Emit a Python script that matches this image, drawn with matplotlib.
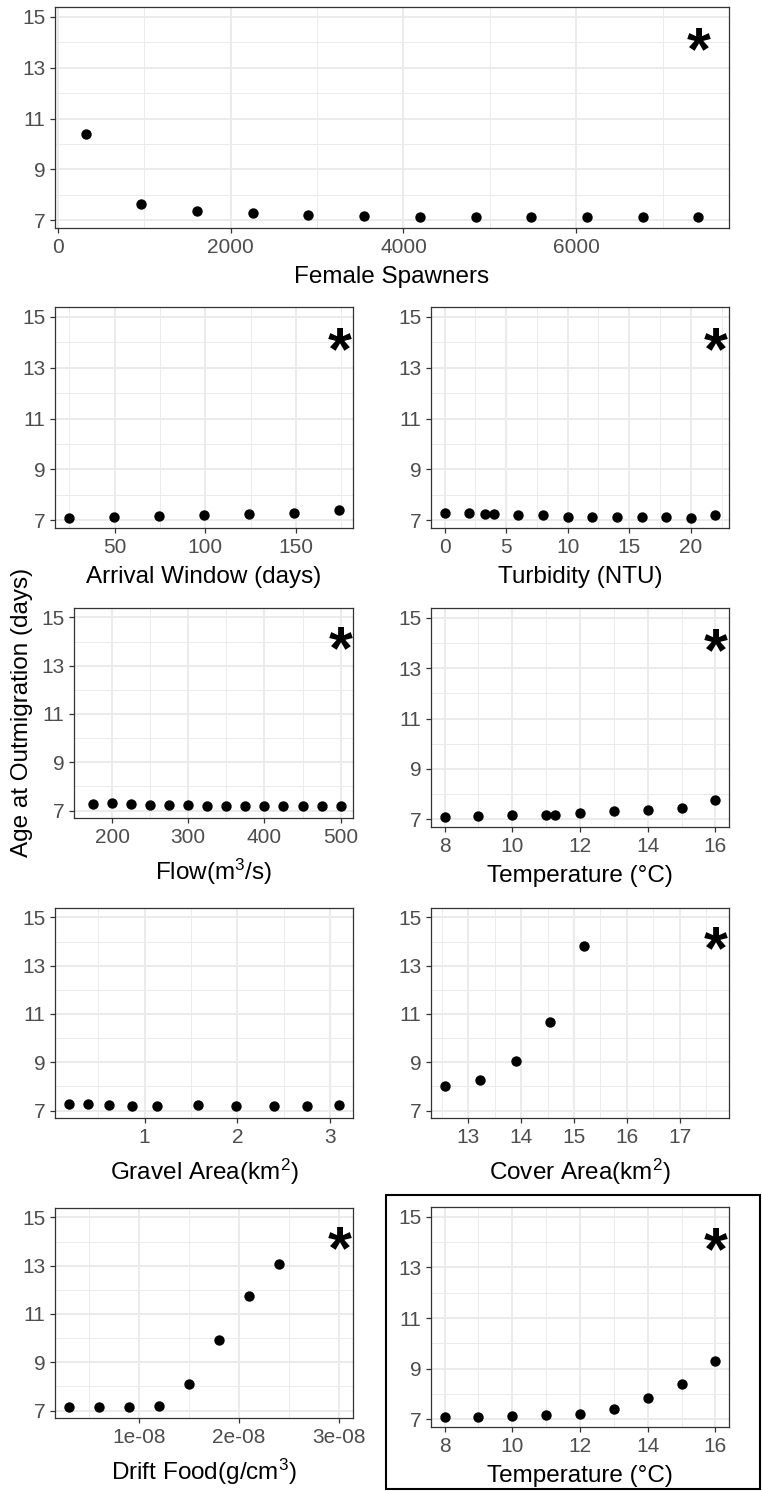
# Age at outmigration vs. each driver, ggplot theme_bw look
import matplotlib.pyplot as plt
from matplotlib.patches import Rectangle

plt.rcParams['font.family'] = ['Liberation Sans', 'DejaVu Sans']
plt.rcParams['mathtext.fontset'] = 'custom'
plt.rcParams['mathtext.rm'] = 'Liberation Sans'
plt.rcParams['mathtext.it'] = 'Liberation Sans'

# data
spawners_x = [320, 965, 1610, 2255, 2900, 3545, 4190, 4835, 5480, 6125, 6770, 7415]
spawners_y = [10.41, 7.63, 7.37, 7.28, 7.22, 7.18, 7.14, 7.11, 7.11, 7.11, 7.11, 7.12]

arrival_x = [24.5, 49.5, 74.5, 99, 124, 149, 174]
arrival_y = [7.08, 7.12, 7.16, 7.22, 7.25, 7.29, 7.39]

turbidity_x = [0, 2, 3.3, 4, 6, 8, 10, 12, 14, 16, 18, 20, 22]
turbidity_y = [7.29, 7.29, 7.24, 7.25, 7.22, 7.21, 7.14, 7.13, 7.13, 7.13, 7.12, 7.09, 7.22]

flow_x = [175, 200, 225, 250, 275, 300, 325, 350, 375, 400, 425, 450, 475, 500]
flow_y = [7.29, 7.30, 7.25, 7.23, 7.23, 7.21, 7.19, 7.18, 7.19, 7.19, 7.18, 7.18, 7.19, 7.17]

temp_x = [8, 9, 10, 11, 11.25, 12, 13, 14, 15, 16]
temp_y = [7.10, 7.13, 7.16, 7.17, 7.18, 7.26, 7.31, 7.37, 7.45, 7.75]

gravel_x = [0.18, 0.39, 0.62, 0.86, 1.13, 1.57, 1.99, 2.39, 2.75, 3.10]
gravel_y = [7.27, 7.25, 7.21, 7.18, 7.19, 7.21, 7.19, 7.19, 7.18, 7.21]

cover_x = [12.55, 13.23, 13.9, 14.55, 15.2]
cover_y = [8.01, 8.27, 9.05, 10.68, 13.81]

drift_x = [3e-9, 6e-9, 9e-9, 1.2e-8, 1.5e-8, 1.8e-8, 2.1e-8, 2.4e-8]
drift_y = [7.16, 7.16, 7.14, 7.19, 8.08, 9.92, 11.74, 13.07]

temp2_x = [8, 9, 10, 11, 12, 13, 14, 15, 16]
temp2_y = [7.08, 7.10, 7.13, 7.16, 7.20, 7.39, 7.85, 8.40, 9.30]

y_major = [7, 9, 11, 13, 15]
y_minor = [8, 10, 12, 14]

W, H = 762, 1491
fig = plt.figure(figsize=(W / 100, H / 100), dpi=100)


def box(l, t, r, b):
    return [l / W, 1 - b / H, (r - l) / W, (b - t) / H]


# (x, y, xlabel, star x or None, major ticks, minor ticks, tick labels, pixel box, label drop)
panels = [
    (spawners_x, spawners_y, 'Female Spawners', 7415, [0, 2000, 4000, 6000],
     [1000, 3000, 5000, 7000], None, (55, 7, 729, 228), 55),
    (arrival_x, arrival_y, 'Arrival Window (days)', 174, [50, 100, 150],
     [25, 75, 125, 175], None, (55, 307, 353, 528), 55),
    (turbidity_x, turbidity_y, 'Turbidity (NTU)', 22, [0, 5, 10, 15, 20],
     [2.5, 7.5, 12.5, 17.5, 22.5], None, (431, 307, 729, 528), 55),
    (flow_x, flow_y, r'Flow$(\mathrm{m}^3/\mathrm{s})$', 500, [200, 300, 400, 500],
     [150, 250, 350, 450], None, (74, 608, 353, 818), 62),
    (temp_x, temp_y, 'Temperature (°C)', 16, [8, 10, 12, 14, 16],
     [9, 11, 13, 15], None, (431, 608, 729, 827), 55),
    (gravel_x, gravel_y, r'Gravel Area$(\mathrm{km}^2)$', None, [1, 2, 3],
     [0.5, 1.5, 2.5], None, (55, 908, 353, 1118), 62),
    (cover_x, cover_y, r'Cover Area$(\mathrm{km}^2)$', 17.68, [13, 14, 15, 16, 17],
     [12.5, 13.5, 14.5, 15.5, 16.5, 17.5], None, (431, 908, 729, 1118), 62),
    (drift_x, drift_y, r'Drift Food$(\mathrm{g}/\mathrm{cm}^3)$', 3e-8, [1e-8, 2e-8, 3e-8],
     [0.5e-8, 1.5e-8, 2.5e-8], ['1e-08', '2e-08', '3e-08'], (55, 1208, 353, 1418), 62),
    (temp2_x, temp2_y, 'Temperature (°C)', 16, [8, 10, 12, 14, 16],
     [9, 11, 13, 15], None, (431, 1207, 729, 1427), 55),
]

for x, y, xlab, star_x, xmaj, xmin, xlabels, (l, t, r, b), drop in panels:
    ax = fig.add_axes(box(l, t, r, b))
    ax.scatter(x, y, s=56, c='black', linewidths=0, zorder=3)

    allx = list(x) + ([star_x] if star_x is not None else [])
    lo, hi = min(allx), max(allx)
    pad = (hi - lo) * 0.05
    ax.set_xlim(lo - pad, hi + pad)
    ax.set_ylim(6.69, 15.39)

    ax.set_xticks(xmaj)
    if xlabels:
        ax.set_xticklabels(xlabels)
    ax.set_xticks(xmin, minor=True)
    ax.set_yticks(y_major)
    ax.set_yticks(y_minor, minor=True)

    ax.grid(which='major', color='#EBEBEB', linewidth=1.4, zorder=0)
    ax.grid(which='minor', color='#EBEBEB', linewidth=0.7, zorder=0)
    ax.set_axisbelow(True)

    ax.tick_params(which='major', length=3.4, width=0.9, color='#333333',
                   labelsize=15, labelcolor='#4D4D4D', pad=3.5)
    ax.tick_params(which='minor', length=0)
    for s in ax.spines.values():
        s.set_color('#333333')
        s.set_linewidth(0.9)

    if star_x is not None:
        ax.text(star_x, 13.55, '*', ha='center', va='center', fontsize=44,
                fontweight='bold', color='black')

    fig.text((l + r) / 2 / W, 1 - (b + drop) / H, xlab, ha='center',
             va='baseline', fontsize=17.5, color='black')

fig.text(22 / W, 1 - 712 / H, 'Age at Outmigration (days)', rotation=90,
         ha='center', va='center', fontsize=17.5, color='black')

fig.add_artist(Rectangle((386 / W, 1 - 1489 / H), (760 - 386) / W, (1489 - 1195) / H,
                         transform=fig.transFigure, fill=False, lw=1.5, ec='black'))

fig.savefig('out.png', dpi=100)
plt.close('all')
